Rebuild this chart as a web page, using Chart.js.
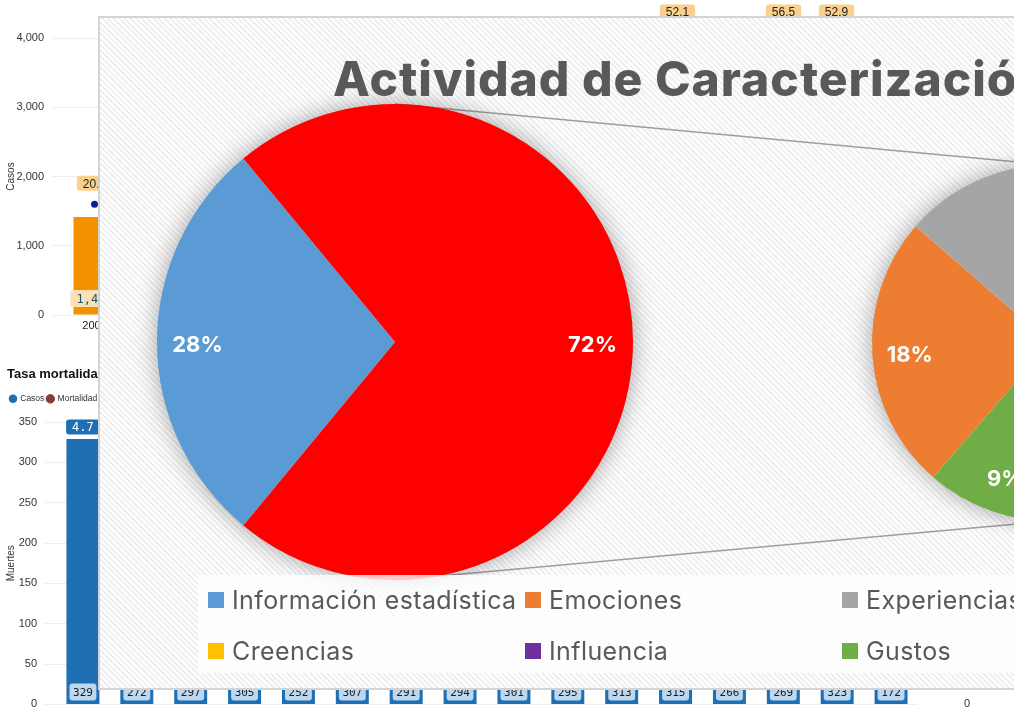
<!DOCTYPE html>
<html lang="es">
<head>
<meta charset="utf-8">
<title>Actividad de Caracterización</title>
<script src="https://cdn.jsdelivr.net/npm/chart.js@4.4.1/dist/chart.umd.min.js"></script>
<style>
  html, body { margin: 0; padding: 0; }
  body { width: 1014px; height: 707px; overflow: hidden; background: #fff; position: relative; }
  canvas { position: absolute; }
  #casos { left: 0; top: 0; }
  #muertes { left: 0; top: 355px; }
  #panel {
    position: absolute; left: 98px; top: 16px; width: 1100px; height: 670px;
    border: 2px solid #d4d4d4; overflow: hidden; z-index: 10;
    background: repeating-linear-gradient(45deg, #ffffff 0 2px, #efefef 2px 4px);
  }
  #lineas { left: 0; top: 0; z-index: 1; }
  #principal { left: 27px; top: 56px; z-index: 2; }
  #secundario { left: 742px; top: 117px; z-index: 2; }
  #titulo {
    position: absolute; left: 233px; top: 37px; z-index: 3;
    font: 800 48px Inter, sans-serif; line-height: 1; color: #595959;
    white-space: nowrap; letter-spacing: 1px;
  }
  #leyenda {
    position: absolute; left: 98px; top: 557px; width: 1000px; height: 98px;
    background: rgba(255, 255, 255, 0.78); z-index: 4;
  }
  .item {
    position: absolute; height: 30px; display: flex; align-items: center;
    font: 400 25px Inter, sans-serif; color: #595959; white-space: nowrap; letter-spacing: 0.4px;
  }
  .item i { width: 16px; height: 16px; margin-right: 8px; display: inline-block; }
</style>
</head>
<body>
<canvas id="casos" width="1014" height="345"></canvas>
<canvas id="muertes" width="1014" height="394"></canvas>
<div id="panel">
  <canvas id="lineas" width="1100" height="670"></canvas>
  <canvas id="principal" width="536" height="536"></canvas>
  <canvas id="secundario" width="416" height="416"></canvas>
  <div id="titulo">Actividad de Caracterización</div>
  <div id="leyenda"></div>
</div>
<script>
// fondo: tablero de casos y mortalidad
const anios = ['2005', '2006', '2007', '2008', '2009', '2010', '2011', '2012',
  '2013', '2014', '2015', '2016', '2017', '2018', '2019', '2020'];
const casos = [1415, 1620, 1880, 2040, 2230, 2410, 2580, 2760, 2910, 3050, 3190, 3360, 3540, 4430, 4010, 3120];
const tasaCasos = [20.4, 23.8, 26.9, 29.6, 32.2, 34.5, 37.1, 39.4, 41.8, 44.0, 46.1, 52.1, 47.5, 56.5, 52.9, 41.2];
const muertes = [329, 272, 297, 305, 252, 307, 291, 294, 301, 295, 313, 315, 266, 269, 323, 172];
const mortalidad = [4.7, 3.9, 4.2, 4.3, 3.5, 4.3, 4.0, 4.1, 4.2, 4.1, 4.3, 4.4, 3.7, 3.7, 4.5, 2.4];

// grafico principal: pie de pie
const categorias = ['Información estadística', 'Emociones', 'Experiencias', 'Creencias', 'Influencia', 'Gustos'];
const colores = ['#5b9bd5', '#ed7d31', '#a5a5a5', '#ffc000', '#7030a0', '#70ad47'];
const principalEtiquetas = ['Información estadística', 'Otros'];
const principalValores = [28, 72];
const principalColores = ['#5b9bd5', '#ff0000'];
const secundarioEtiquetas = ['Emociones', 'Experiencias', 'Creencias', 'Influencia', 'Gustos'];
const secundarioValores = [18, 25, 11, 9, 9];

const fuenteEje = "'Liberation Sans Narrow', 'Liberation Sans', Arial, sans-serif";
const total = principalValores.reduce((a, b) => a + b, 0);

// etiquetas con caja redondeada (como datalabels)
const etiquetasCaja = {
  id: 'etiquetasCaja',
  afterDatasetsDraw(chart) {
    const ctx = chart.ctx;
    chart.data.datasets.forEach((ds, i) => {
      const cfg = ds.etiqueta;
      if (!cfg) return;
      chart.getDatasetMeta(i).data.forEach((el, j) => {
        const txt = cfg.formato(ds.data[j]);
        ctx.save();
        ctx.font = cfg.fuente;
        const w = ctx.measureText(txt).width + cfg.relleno, h = cfg.alto;
        let cy = cfg.base ? el.base - cfg.desplazamiento : el.y - cfg.desplazamiento;
        cy = Math.max(cy, cfg.minimo || 0);
        ctx.fillStyle = cfg.fondo;
        ctx.beginPath();
        ctx.roundRect(el.x - w / 2, cy - h / 2, w, h, 3);
        ctx.fill();
        ctx.fillStyle = cfg.color;
        ctx.textAlign = 'center';
        ctx.textBaseline = 'middle';
        ctx.fillText(txt, el.x, cy + 1);
        ctx.restore();
      });
    });
  }
};

// espacio extra bajo la leyenda del grafico de mortalidad
const margenLeyenda = {
  id: 'margenLeyenda',
  beforeInit(chart) {
    const fit = chart.legend.fit;
    chart.legend.fit = function () {
      fit.call(this);
      this.height += 9;
    };
  }
};

new Chart(document.getElementById('casos'), {
  data: {
    labels: anios,
    datasets: [{
      type: 'line', label: 'Tasa', data: tasaCasos, yAxisID: 'y1', order: 1,
      showLine: false, clip: false, pointRadius: 3.5, pointBorderWidth: 0,
      pointBackgroundColor: '#0b1f8c',
      etiqueta: { formato: v => v.toFixed(1), fuente: '12px ' + fuenteEje, fondo: '#fbd08a',
        color: '#222', alto: 15, relleno: 12, desplazamiento: 21, minimo: 12 }
    }, {
      type: 'bar', label: 'Casos', data: casos, yAxisID: 'y', order: 2,
      backgroundColor: '#f39200', barPercentage: 0.88, categoryPercentage: 0.9,
      etiqueta: { base: true, formato: v => v.toLocaleString('en-US'), fuente: '12px monospace',
        fondo: '#fde0b4', color: '#1f5566', alto: 17, relleno: 12, desplazamiento: 16 }
    }]
  },
  options: {
    responsive: false, animation: false, events: [],
    layout: { padding: { top: 38, left: 0, right: 98, bottom: 0 } },
    plugins: { legend: { display: false }, tooltip: { enabled: false } },
    scales: {
      x: {
        grid: { display: false, drawTicks: false }, border: { display: false },
        ticks: { font: { size: 11, family: fuenteEje }, color: '#222', padding: 4, maxRotation: 0 },
        afterFit: s => { s.height = 30; }
      },
      y: {
        min: 0, max: 4000,
        ticks: { stepSize: 1000, font: { size: 11, family: fuenteEje }, color: '#333', padding: 8 },
        grid: { color: '#eeeeee', tickLength: 16 }, border: { display: false },
        title: { display: true, text: 'Casos', font: { size: 10, family: fuenteEje }, color: '#333', padding: { top: 5, bottom: 0 } },
        afterFit: s => { s.width = 68; }
      },
      y1: { display: false, position: 'right', min: 0, max: 51 }
    }
  },
  plugins: [etiquetasCaja]
});

new Chart(document.getElementById('muertes'), {
  data: {
    labels: anios,
    datasets: [{
      type: 'line', label: 'Mortalidad', data: mortalidad, yAxisID: 'y1', order: 1,
      showLine: false, pointRadius: 0, borderColor: '#8b3a3a', backgroundColor: '#8b3a3a',
      pointStyle: 'circle',
      etiqueta: { formato: v => v.toFixed(1), fuente: '12px monospace', fondo: '#1f6fb5',
        color: '#ffffff', alto: 15, relleno: 12, desplazamiento: 12 }
    }, {
      type: 'bar', label: 'Casos', data: muertes, yAxisID: 'y', order: 2,
      backgroundColor: '#1f6fb5', borderColor: '#1f6fb5', barPercentage: 0.68, categoryPercentage: 0.9,
      pointStyle: 'circle',
      etiqueta: { base: true, formato: v => String(v), fuente: '11px monospace',
        fondo: '#bdd7ee', color: '#1a1a1a', alto: 17, relleno: 7, desplazamiento: 12 }
    }]
  },
  options: {
    responsive: false, animation: false, events: [],
    layout: { padding: { top: 0, left: 7, right: 36, bottom: 0 } },
    plugins: {
      title: {
        display: true, text: 'Tasa mortalidad por año', align: 'start', color: '#111',
        font: { size: 13, weight: 'bold', family: fuenteEje }, padding: { top: 12, bottom: 9 }
      },
      legend: {
        display: true, position: 'top', align: 'start', reverse: true,
        labels: { usePointStyle: true, boxWidth: 6, boxHeight: 6, padding: 3,
          font: { size: 8.5, family: fuenteEje }, color: '#333' }
      },
      tooltip: { enabled: false }
    },
    scales: {
      x: {
        grid: { display: false, drawTicks: false }, border: { display: false },
        ticks: { font: { size: 11, family: fuenteEje }, color: '#222', padding: 8 },
        afterFit: s => { s.height = 37; }
      },
      y: {
        min: 0, max: 350,
        ticks: { stepSize: 50, font: { size: 11, family: fuenteEje }, color: '#333', padding: 8 },
        grid: { color: '#eeeeee', tickLength: 11 }, border: { display: false },
        title: { display: true, text: 'Muertes', font: { size: 10, family: fuenteEje }, color: '#333', padding: { top: -2, bottom: 0 } },
        afterFit: s => { s.width = 49; }
      },
      y1: {
        position: 'right', min: 0, max: 5,
        grid: { display: false }, border: { display: false },
        ticks: { stepSize: 1, font: { size: 11, family: fuenteEje }, color: '#333', padding: 38 },
        afterFit: s => { s.width = 60; }
      }
    }
  },
  plugins: [margenLeyenda, etiquetasCaja]
});

// sombra suave detras de cada pastel
const sombra = {
  id: 'sombra',
  beforeDatasetsDraw(chart) {
    const arc = chart.getDatasetMeta(0).data[0];
    const ctx = chart.ctx;
    ctx.save();
    ctx.shadowColor = 'rgba(0, 0, 0, 0.38)';
    ctx.shadowBlur = 24;
    ctx.beginPath();
    ctx.arc(arc.x, arc.y, arc.outerRadius - 1, 0, Math.PI * 2);
    ctx.fillStyle = '#ffffff';
    ctx.fill();
    ctx.restore();
  }
};

// porcentajes blancos dentro de cada porcion
const porcentajes = {
  id: 'porcentajes',
  afterDatasetsDraw(chart, args, opts) {
    const ctx = chart.ctx;
    const ds = chart.data.datasets[0];
    chart.getDatasetMeta(0).data.forEach((arc, i) => {
      const mid = (arc.startAngle + arc.endAngle) / 2;
      const r = arc.outerRadius * opts.radio;
      ctx.save();
      ctx.fillStyle = '#ffffff';
      ctx.font = "700 22px Inter, 'Noto Sans', sans-serif";
      ctx.textAlign = 'center';
      ctx.textBaseline = 'middle';
      ctx.fillText(Math.round(ds.data[i] / total * 100) + '%', arc.x + Math.cos(mid) * r, arc.y + Math.sin(mid) * r + 3);
      ctx.restore();
    });
  }
};

const opcionesPastel = radio => ({
  responsive: false, animation: false, events: [],
  layout: { padding: 30 },
  plugins: { legend: { display: false }, tooltip: { enabled: false }, porcentajes: { radio } }
});

const lienzoPrincipal = document.getElementById('principal');
const lienzoSecundario = document.getElementById('secundario');

const principal = new Chart(lienzoPrincipal, {
  type: 'pie',
  data: {
    labels: principalEtiquetas,
    datasets: [{
      data: principalValores, backgroundColor: principalColores,
      borderWidth: 0, hoverOffset: 0,
      rotation: 90 + principalValores[1] / total * 180
    }]
  },
  options: opcionesPastel(0.83),
  plugins: [sombra, porcentajes]
});

const secundario = new Chart(lienzoSecundario, {
  type: 'pie',
  data: {
    labels: secundarioEtiquetas,
    datasets: [{
      data: secundarioValores,
      backgroundColor: secundarioEtiquetas.map(n => colores[categorias.indexOf(n)]),
      borderWidth: 0, hoverOffset: 0, rotation: 221
    }]
  },
  options: opcionesPastel(0.79),
  plugins: [sombra, porcentajes]
});

// lineas que unen el pastel principal con el secundario
function dibujarConectores() {
  const ctx = document.getElementById('lineas').getContext('2d');
  const a = principal.getDatasetMeta(0).data[0];
  const b = secundario.getDatasetMeta(0).data[0];
  const ax = lienzoPrincipal.offsetLeft + a.x, ay = lienzoPrincipal.offsetTop + a.y;
  const bx = lienzoSecundario.offsetLeft + b.x, by = lienzoSecundario.offsetTop + b.y;
  ctx.strokeStyle = '#9e9e9e';
  ctx.lineWidth = 1.6;
  ctx.beginPath();
  ctx.moveTo(ax, ay - a.outerRadius);
  ctx.lineTo(bx, by - b.outerRadius);
  ctx.moveTo(ax, ay + a.outerRadius);
  ctx.lineTo(bx, by + b.outerRadius);
  ctx.stroke();
}
dibujarConectores();

// leyenda en tres columnas
const leyenda = document.getElementById('leyenda');
categorias.forEach((nombre, i) => {
  const item = document.createElement('div');
  item.className = 'item';
  item.style.left = (10 + (i % 3) * 317) + 'px';
  item.style.top = (10 + Math.floor(i / 3) * 51) + 'px';
  item.innerHTML = '<i style="background:' + colores[i] + '"></i>' + nombre;
  leyenda.appendChild(item);
});
</script>
</body>
</html>
